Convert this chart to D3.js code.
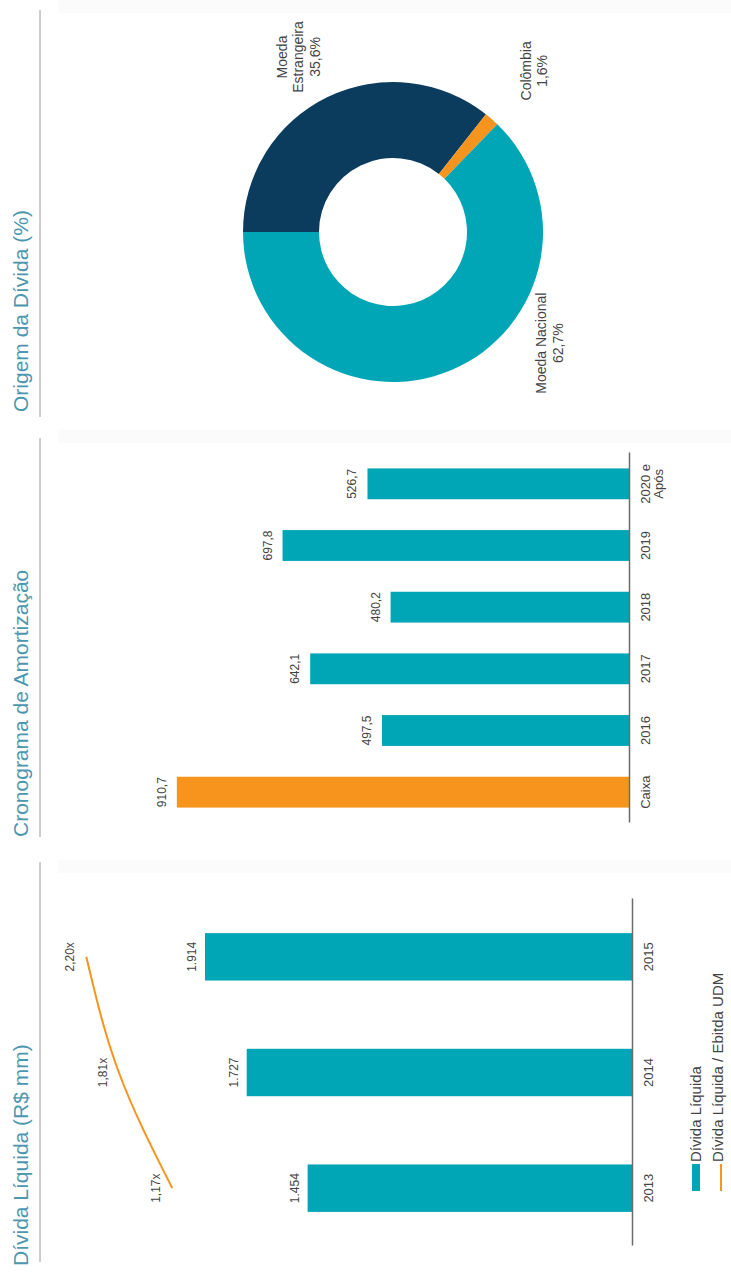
<!DOCTYPE html>
<html><head><meta charset="utf-8">
<script src="https://cdn.jsdelivr.net/npm/d3@7"></script>
<style>
html,body{margin:0;padding:0;background:#fff;}
svg{display:block;font-family:"Liberation Sans",Arial,sans-serif;}
</style></head>
<body>
<script>
// ---------- data ----------
const dividaCats = ["2013", "2014", "2015"];
const dividaValues = [1454, 1727, 1914];
const alavancagemValues = [1.17, 1.81, 2.20];
const cronoCats = ["Caixa", "2016", "2017", "2018", "2019", "2020 e Após"];
const cronoValues = [910.7, 497.5, 642.1, 480.2, 697.8, 526.7];
const origemCats = ["Moeda Estrangeira", "Colômbia", "Moeda Nacional"];
const origemValues = [35.6, 1.6, 62.7];
const panelTitles = ["Dívida Líquida (R$ mm)", "Cronograma de Amortização", "Origem da Dívida (%)"];
const legendLabels = ["Dívida Líquida", "Dívida Líquida / Ebitda UDM"];

// ---------- style ----------
const W = 731, H = 1274;
const TEAL = "#00a6b6", ORANGE = "#f7941e", NAVY = "#0b3c5d";
const TITLE_C = "#4b97b0", TEXT_C = "#444444", AXIS_C = "#6b6b6b", RULE_C = "#9a9a9a";

const br = d3.formatLocale({decimal: ",", thousands: ".", grouping: [3], currency: ["R$ ", ""]});
const fInt = br.format(",.0f"), f1 = br.format(",.1f"), f2 = br.format(".2f");

const svg = d3.select("body").append("svg").attr("width", W).attr("height", H);
// whole chart is drawn in an unrotated frame (1274 wide x 731 tall) then turned 90° ccw
const g = svg.append("g").attr("transform", `translate(0,${H}) rotate(-90)`);

// very faint scan strips at the top of each panel
[[401, 414], [831, 844], [1261, 1274]].forEach(([a, b]) => {
  g.append("rect").attr("x", a).attr("y", 58).attr("width", b - a).attr("height", 673).attr("fill", "#fbfbfb");
});

// titles + rules
const titleX = [8, 437, 862];
const ruleSpan = [[12, 412], [437, 836], [857, 1264]];
panelTitles.forEach((t, i) => {
  g.append("text").attr("x", titleX[i]).attr("y", 28).attr("font-size", 21).attr("fill", TITLE_C).text(t);
  g.append("line").attr("x1", ruleSpan[i][0]).attr("x2", ruleSpan[i][1]).attr("y1", 40).attr("y2", 40)
    .attr("stroke", RULE_C).attr("stroke-width", 1);
});

// ---------- panel 1: Dívida Líquida ----------
{
  const x = d3.scaleBand().domain(dividaCats).range([28, 375]).paddingInner(0.59).paddingOuter(0.295);
  const y = d3.scaleLinear().domain([0, 2000]).range([632, 632 - 2000 * 0.2231]);
  const y2 = d3.scaleLinear().domain([0, 2.5]).range([270, 61.25]);
  const p = g.append("g");
  p.selectAll("rect.bar").data(dividaValues).join("rect").attr("class", "bar")
    .attr("x", (d, i) => x(dividaCats[i])).attr("width", x.bandwidth())
    .attr("y", d => y(d)).attr("height", d => y(0) - y(d)).attr("fill", TEAL);
  p.selectAll("text.val").data(dividaValues).join("text").attr("class", "val")
    .attr("x", (d, i) => x(dividaCats[i]) + x.bandwidth() / 2).attr("y", d => y(d) - 9)
    .attr("text-anchor", "middle").attr("font-size", 12).attr("fill", TEXT_C).text(d => fInt(d));
  const axis = d3.axisBottom(x).tickSize(0).tickPadding(12);
  const ax = p.append("g").attr("transform", `translate(0,${y(0)})`).call(axis);
  ax.select(".domain").attr("stroke", AXIS_C).attr("stroke-width", 1.5);
  ax.selectAll("text").attr("font-size", 13).attr("fill", TEXT_C).attr("font-family", null);
  // line
  const line = d3.line().x((d, i) => x(dividaCats[i]) + x.bandwidth() / 2).y(d => y2(d)).curve(d3.curveMonotoneX);
  p.append("path").datum(alavancagemValues).attr("d", line).attr("fill", "none")
    .attr("stroke", ORANGE).attr("stroke-width", 2);
  p.selectAll("text.lv").data(alavancagemValues).join("text").attr("class", "lv")
    .attr("x", (d, i) => x(dividaCats[i]) + x.bandwidth() / 2).attr("y", d => y2(d) - 12)
    .attr("text-anchor", "middle").attr("font-size", 12).attr("fill", TEXT_C).text(d => f2(d) + "x");
  // legend
  const lg = p.append("g").attr("transform", "translate(83,0)");
  lg.append("rect").attr("x", 0).attr("y", 692).attr("width", 27).attr("height", 8).attr("fill", TEAL);
  lg.append("line").attr("x1", 0).attr("x2", 27).attr("y1", 721).attr("y2", 721).attr("stroke", ORANGE).attr("stroke-width", 2);
  legendLabels.forEach((t, i) => {
    lg.append("text").attr("x", 29).attr("y", 701 + i * 22).attr("font-size", 15).attr("fill", TEXT_C).text(t);
  });
}

// ---------- panel 2: Cronograma ----------
{
  const x = d3.scaleBand().domain(cronoCats).range([451, 821]).paddingInner(0.5).paddingOuter(0.25);
  const y = d3.scaleLinear().domain([0, 1000]).range([629, 629 - 1000 * 0.4965]);
  const p = g.append("g");
  p.selectAll("rect.bar").data(cronoValues).join("rect").attr("class", "bar")
    .attr("x", (d, i) => x(cronoCats[i])).attr("width", x.bandwidth())
    .attr("y", d => y(d)).attr("height", d => y(0) - y(d)).attr("fill", (d, i) => i === 0 ? ORANGE : TEAL);
  p.selectAll("text.val").data(cronoValues).join("text").attr("class", "val")
    .attr("x", (d, i) => x(cronoCats[i]) + x.bandwidth() / 2).attr("y", d => y(d) - 11)
    .attr("text-anchor", "middle").attr("font-size", 12).attr("fill", TEXT_C).text(d => f1(d));
  const axis = d3.axisBottom(x).tickSize(0).tickPadding(12);
  const ax = p.append("g").attr("transform", `translate(0,${y(0)})`).call(axis);
  ax.select(".domain").attr("stroke", AXIS_C).attr("stroke-width", 1.5);
  ax.selectAll("text").attr("font-size", 13).attr("fill", TEXT_C).attr("font-family", null)
    .each(function(d) {
      const parts = d === "2020 e Após" ? ["2020 e", "Após"] : [d];
      if (parts.length > 1) {
        const t = d3.select(this).text(null);
        parts.forEach((s, k) => t.append("tspan").attr("x", 0).attr("dy", k === 0 ? "0.71em" : "1.0em").text(s));
      }
    });
}

// ---------- panel 3: Origem da Dívida ----------
{
  const cx = 1042, cy = 393, rOut = 150, rIn = 74;
  const pie = d3.pie().sort(null).value(d => d)(origemValues);
  const arc = d3.arc().innerRadius(rIn).outerRadius(rOut);
  const p = g.append("g").attr("transform", `translate(${cx},${cy})`);
  const colors = [NAVY, ORANGE, TEAL];
  p.selectAll("path").data(pie).join("path").attr("d", arc).attr("fill", (d, i) => colors[i]);
  // label placement: fraction along slice and radius
  const labelFrac = [0.48, 0.5, 0.36], labelR = [199, 214, 192];
  const lines = [["Moeda", "Estrangeira"], ["Colômbia"], ["Moeda Nacional"]];
  pie.forEach((s, i) => {
    const a = s.startAngle + (s.endAngle - s.startAngle) * labelFrac[i];
    const lx = Math.sin(a) * labelR[i], ly = -Math.cos(a) * labelR[i];
    const rows = lines[i].concat([f1(origemValues[i]) + "%"]);
    const t = p.append("text").attr("text-anchor", "middle").attr("font-size", 14).attr("fill", TEXT_C)
      .attr("transform", `translate(${lx},${ly})`);
    const lh = 16.5, top = -((rows.length - 1) * lh) / 2;
    rows.forEach((r, k) => t.append("tspan").attr("x", 0).attr("y", top + k * lh).attr("dy", "0.35em").text(r));
  });
}
</script>
</body></html>
